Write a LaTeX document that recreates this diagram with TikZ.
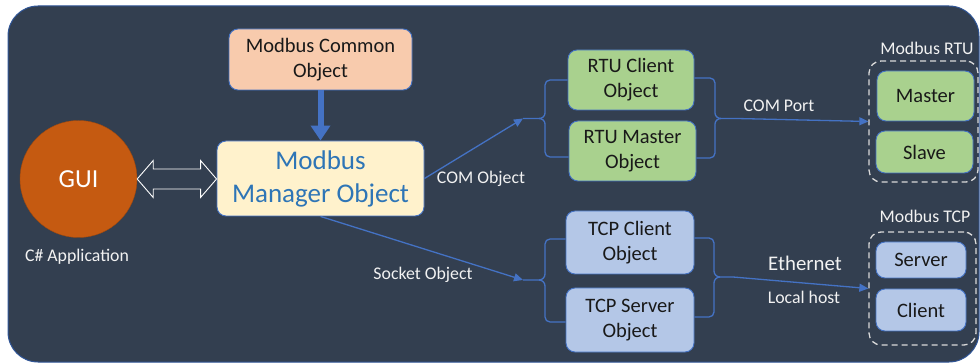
\documentclass[tikz,border=0pt]{standalone}
\usepackage{fontspec}
\setmainfont{Carlito}
\usetikzlibrary{arrows.meta,calc}
\definecolor{bg}{HTML}{333F50}
\definecolor{bgline}{HTML}{2F5597}
\definecolor{link}{HTML}{4472C4}
\definecolor{peach}{HTML}{F8CBAD}
\definecolor{cream}{HTML}{FFF2CC}
\definecolor{mgrtext}{HTML}{2E75B6}
\definecolor{gui}{HTML}{C55A11}
\definecolor{green}{HTML}{A9D18E}
\definecolor{lblue}{HTML}{B4C7E7}
\definecolor{lbl}{HTML}{F2F2F2}
\definecolor{dash}{HTML}{D9D9D9}
\begin{document}
\begin{tikzpicture}[x=1pt,y=-1pt,
  box/.style={draw=link, line width=0.9pt, rounded corners=9pt, inner sep=0pt, align=center,
     text=black!90, font=\fontsize{20.5}{25}\selectfont},
  gbox/.style={box, fill=green},
  bbox/.style={box, fill=lblue},
  lab/.style={text=lbl, font=\fontsize{17.8}{21}\selectfont, inner sep=0pt},
  grp/.style={draw=dash, line width=1.3pt, dash pattern=on 6pt off 4pt, rounded corners=12pt},
  conn/.style={draw=link, line width=1.3pt},
  tipa/.style={-{Triangle[width=8pt,length=9pt]}}
]
\useasboundingbox (0,0) rectangle (980,363);
\fill[white] (0,0) rectangle (980,363);
\draw[fill=bg, draw=bgline, line width=1pt, rounded corners=30pt] (8,6) rectangle (979,362);

% nodes
\node[box, fill=peach, minimum width=183pt, minimum height=61pt] (common) at (320.5,59.5) {Modbus Common\\Object};
\node[box, fill=cream, text=mgrtext, font=\fontsize{27}{33}\selectfont, minimum width=207pt, minimum height=75pt] (manager) at (320.5,178.5) {Modbus\\Manager Object};
\node[circle, fill=gui, draw=gui!80!black, minimum size=117pt, inner sep=0pt, text=white, font=\fontsize{26}{30}\selectfont] (gui) at (78.5,179) {GUI};
\node[lab] (capp) at (77,257) {C\# Application};

\node[gbox, minimum width=126pt, minimum height=60pt] (rtuc) at (631,80) {RTU Client\\Object};
\node[gbox, minimum width=127pt, minimum height=60pt] (rtum) at (632.5,151) {RTU Master\\Object};
\node[bbox, minimum width=128pt, minimum height=63pt] (tcpc) at (630,242.5) {TCP Client\\Object};
\node[bbox, minimum width=128pt, minimum height=64pt] (tcps) at (630,320) {TCP Server\\Object};

\node[gbox, minimum width=97pt, minimum height=50pt] (master) at (925.5,96) {Master};
\node[gbox, minimum width=97pt, minimum height=42pt] (slave) at (924.5,152) {Slave};
\node[bbox, minimum width=90pt, minimum height=36pt] (server) at (921,260) {Server};
\node[bbox, minimum width=90pt, minimum height=42pt] (client) at (921,310) {Client};

\node[grp, minimum width=109pt, minimum height=121pt, inner sep=0pt] (rtubox) at (923.5,121.5) {};
\node[grp, minimum width=107pt, minimum height=113pt, inner sep=0pt] (tcpbox) at (922.5,288.5) {};
\node[lab] (rtulab) at (927,48) {Modbus RTU};
\node[lab] (tcplab) at (925,216) {Modbus TCP};

% labels
\node[lab] (comobj) at (481,179) {COM Object};
\node[lab] (sockobj) at (423,275) {Socket Object};
\node[lab] (comport) at (779,106) {COM Port};
\node[lab, font=\fontsize{20.8}{24}\selectfont] (eth) at (805,263) {Ethernet};
\node[lab] (lhost) at (804,297) {Local host};

% brace tips
\coordinate (rlt) at (523,118.5);
\coordinate (rrt) at (737,118.5);
\coordinate (tlt) at (523,280);
\coordinate (trt) at (733,277);

% thick arrow
\draw[link, line width=6pt, -{Triangle[width=19pt,length=15pt]}] (common.south) -- (manager.north);

% hollow double arrow
\coordinate (da) at (gui.east);
\coordinate (db) at (gui.east -| manager.west);
\draw[white, line width=0.9pt, line join=miter]
  (da) -- ($(da)+(16,-18.5)$) -- ($(da)+(16,-10)$) -- ($(db)+(-16,-10)$) -- ($(db)+(-16,-18.5)$)
  -- (db) -- ($(db)+(-16,18.5)$) -- ($(db)+(-16,10)$) -- ($(da)+(16,10)$) -- ($(da)+(16,18.5)$) -- cycle;

% connectors
\draw[conn, tipa] (manager.east) -- (rlt);
\draw[conn, tipa] (manager.south) -- (tlt);
\draw[conn, tipa] (rrt) -- (rtubox.west);
\draw[conn, tipa] (trt) -- (tcpbox.west);

% braces
\draw[conn] (rtuc.west) -- (550,80) to[out=180,in=90] (545,85) -- (545,113) to[out=-90,in=0] (539,118.5) -- (rlt);
\draw[conn] ($(rtum.west)+(0,6)$) -- (550,157) to[out=180,in=-90] (545,152) -- (545,124) to[out=90,in=0] (539,118.5);
\draw[conn] ($(rtuc.east)+(0,-2)$) -- (710,78) to[out=0,in=90] (715,83) -- (715,113) to[out=-90,in=180] (721,118.5) -- (rrt);
\draw[conn] ($(rtum.east)+(0,7)$) -- (710,158) to[out=0,in=-90] (715,153) -- (715,124) to[out=90,in=180] (721,118.5);

\draw[conn] ($(tcpc.west)+(0,-3.5)$) -- (550,239) to[out=180,in=90] (545,244) -- (545,274) to[out=-90,in=0] (539,280) -- (tlt);
\draw[conn] ($(tcps.west)+(0,2)$) -- (550,322) to[out=180,in=-90] (545,317) -- (545,286) to[out=90,in=0] (539,280);
\draw[conn] ($(tcpc.east)+(0,-4.5)$) -- (709,238) to[out=0,in=90] (714,243) -- (714,271) to[out=-90,in=180] (720,277) -- (trt);
\draw[conn] ($(tcps.east)+(0,-3)$) -- (709,317) to[out=0,in=-90] (714,312) -- (714,283) to[out=90,in=180] (720,277);
\end{tikzpicture}
\end{document}
